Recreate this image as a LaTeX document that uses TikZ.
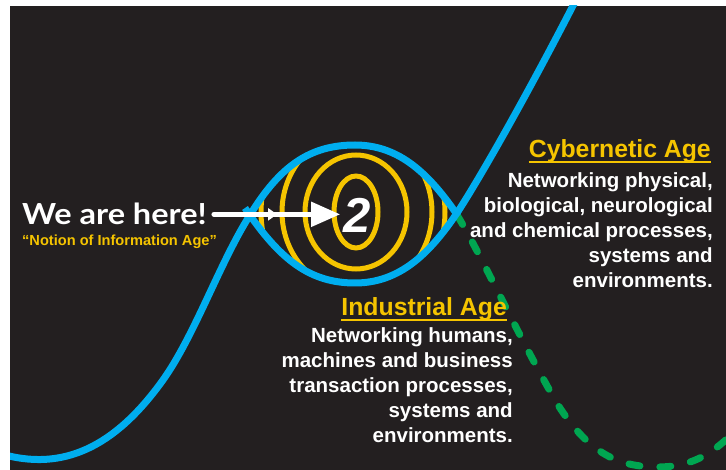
\documentclass[tikz,border=0pt]{standalone}
\usepackage{fontspec}
\setmainfont{Liberation Sans}
\newfontfamily\latofont[FakeStretch=1.12]{Lato}
\usetikzlibrary{calc,decorations.markings,arrows.meta}
\definecolor{bgc}{HTML}{231F20}
\definecolor{cyanc}{HTML}{00AEEF}
\definecolor{yel}{HTML}{F5C400}
\definecolor{grn}{HTML}{00A651}
\tikzset{
  bluecurve/.style={draw=cyanc, line width=7pt},
  greencurve/.style={draw=grn, line width=7pt, line cap=round, dash pattern=on 11pt off 20pt},
  ring/.style={draw=yel, line width=5pt},
  heading/.style={text=yel, inner sep=0pt, font=\fontsize{24.8}{28}\selectfont\bfseries},
  body/.style={text=white, inner sep=0pt, align=right, font=\fontsize{20.5}{25}\selectfont\bfseries},
  uline/.style={draw=yel, line width=2pt},
  arrowline/.style={draw=white, line width=5pt, line cap=round, -{Triangle[length=29pt,width=24pt]},
    decoration={markings, mark=at position 0.5 with {\arrow{Triangle[length=9pt,width=12pt]}}},
    postaction={decorate}}
}
\begin{document}
\begin{tikzpicture}[x=1pt,y=-1pt]
\useasboundingbox (0,0) rectangle (726,470);
\fill[white] (0,0) rectangle (726,470);
\fill[bgc] (10,6) rectangle (726,470);
\begin{scope}
\clip (10,6) rectangle (726,470);
% yellow rings inside the eye
\begin{scope}
\clip (250,215) .. controls (280,168) and (310,145) .. (355,145)
  .. controls (400,145) and (430,175) .. (457,215)
  .. controls (430,253) and (400,283) .. (355,283)
  .. controls (310,283) and (280,260) .. (247,210) -- cycle;
\draw[ring] (356,212) ellipse [x radius=22, y radius=36];
\draw[ring] (356,212) ellipse [x radius=51, y radius=57];
\draw[ring] (357,212) ellipse [x radius=75, y radius=80];
\draw[ring] (353,212) ellipse [x radius=92, y radius=100];
\end{scope}
% green dashed continuation
\draw[greencurve] (457,215) .. controls (480,252) and (520,340) .. (558,405)
  .. controls (590,455) and (620,467) .. (658,467)
  .. controls (690,467) and (710,455) .. (730,436);
% first blue S-curve with upper arc
\draw[bluecurve] (5,455) .. controls (70,472) and (120,440) .. (163,380)
  .. controls (195,335) and (220,262) .. (250,215)
  .. controls (280,166) and (310,145) .. (355,145)
  .. controls (400,145) and (430,175) .. (458,216);
% second blue curve: lower arc rising to the top
\draw[bluecurve] (245,208) .. controls (280,260) and (310,283) .. (355,283)
  .. controls (400,283) and (430,253) .. (457,213)
  .. controls (480,178) and (530,90) .. (580,-8);
\end{scope}
% texts
\node[text=white, inner sep=0pt, anchor=base west, font=\latofont\fontsize{29}{32}\selectfont\bfseries] (here) at (22,225) {We are here!};
\node[text=yel, inner sep=0pt, anchor=base west, font=\fontsize{14.6}{16}\selectfont\bfseries] (notion) at (22,246) {“Notion of Information Age”};
\node[text=white, inner sep=0pt, font=\fontsize{49}{49}\selectfont\bfseries\itshape] (two) at (357,215) {2};
\draw[arrowline] ([xshift=7pt]here.east) -- ([xshift=-3pt]here.east -| two.west);
\node[heading, anchor=base east] (cyb) at (711,158) {Cybernetic Age};
\draw[uline] ($(cyb.base west)+(0,4)$) -- ($(cyb.base east)+(0,4)$);
\node[body, anchor=north east] (cybtext) at (713,172) {Networking physical,\\biological, neurological\\and chemical processes,\\systems and\\environments.};
\node[heading, anchor=base east] (ind) at (507,316) {Industrial Age};
\draw[uline] ($(ind.base west)+(0,4)$) -- ($(ind.base east)+(0,4)$);
\node[body, anchor=north east] (indtext) at (513,327) {Networking humans,\\machines and business\\transaction processes,\\systems and\\environments.};
\end{tikzpicture}
\end{document}
